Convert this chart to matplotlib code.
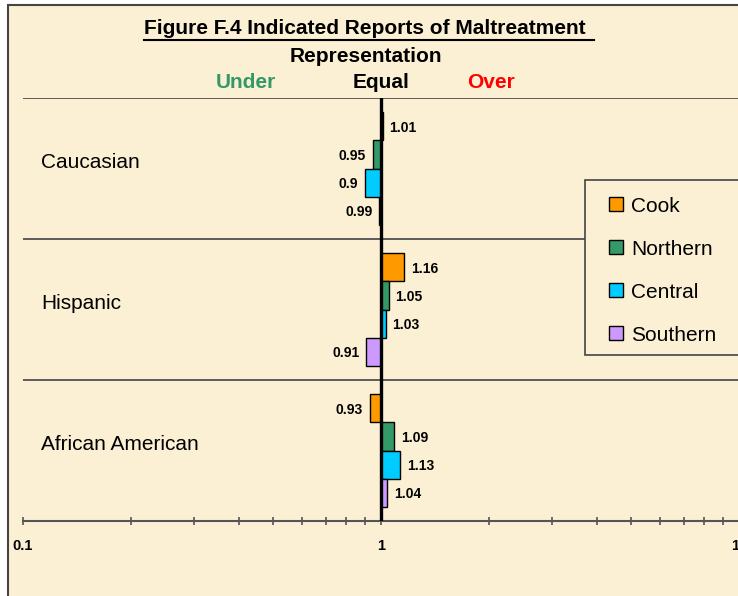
import numpy as np
import matplotlib.pyplot as plt
from matplotlib.patches import Rectangle
from matplotlib.lines import Line2D
from matplotlib.ticker import LogLocator, NullFormatter, FixedFormatter, FixedLocator

plt.rcParams['font.family'] = ['Liberation Sans', 'DejaVu Sans']

# data
groups = ['Caucasian', 'Hispanic', 'African American']
regions = ['Cook', 'Northern', 'Central', 'Southern']
cook = [1.01, 1.16, 0.93]
northern = [0.95, 1.05, 1.09]
central = [0.90, 1.03, 1.13]
southern = [0.99, 0.91, 1.04]
colors = ['#FF9900', '#339966', '#00CCFF', '#CC99FF']
tick_vals = [0.1, 1, 10]
tick_labels = ['0.1', '1', '10']

series = [cook, northern, central, southern]
bg = '#FBF0D4'

fig = plt.figure(figsize=(7.38, 5.96), dpi=100, facecolor='white')
W, H = 738, 596

# framed beige panel
fig.patches.append(Rectangle((8 / W, -0.05), 1.1, 1 - 5 / H + 0.05,
                             transform=fig.transFigure, facecolor=bg,
                             edgecolor='#444444', lw=1.5, zorder=-5))

ax = fig.add_axes([23 / W, 1 - 521 / H, (739 - 23) / W, (521 - 98) / H])
ax.set_facecolor('none')
ax.set_xscale('log')
ax.set_xlim(0.1, 10)
ax.set_ylim(0, 3)

h = 0.2
for gi, g in enumerate(groups):
    base = 2 - gi  # top band is Caucasian
    for si, vals in enumerate(series):
        v = vals[gi]
        yc = base + 0.9 - h / 2 - si * h
        ax.barh(yc, v - 1, left=1, height=h, color=colors[si],
                edgecolor='black', lw=1, zorder=2)
        lab = '%g' % v
        if v >= 1:
            ax.annotate(lab, (v, yc), xytext=(5, -1), textcoords='offset points',
                        ha='left', va='center', fontsize=10, fontweight='bold')
        else:
            ax.annotate(lab, (v, yc), xytext=(-5, -1), textcoords='offset points',
                        ha='right', va='center', fontsize=10, fontweight='bold')
    ax.text(0.025, base + 0.54, g, transform=ax.get_yaxis_transform(),
            fontsize=15, ha='left', va='center')

# band separators
for yy in [1, 2, 3]:
    ax.axhline(yy, color='#444444', lw=1.2, zorder=1)
ax.plot([1, 1], [0, 3], color='black', lw=2.4, zorder=3)

for s in ['top', 'right', 'left']:
    ax.spines[s].set_visible(False)
ax.spines['bottom'].set_color('#555555')
ax.spines['bottom'].set_linewidth(1.5)
ax.set_yticks([])
ax.xaxis.set_major_locator(FixedLocator(tick_vals))
ax.xaxis.set_major_formatter(FixedFormatter(tick_labels))
ax.xaxis.set_minor_locator(LogLocator(base=10, subs=np.arange(2, 10)))
ax.xaxis.set_minor_formatter(NullFormatter())
ax.tick_params(axis='x', which='both', direction='inout', length=6, width=1.2,
               color='#555555', pad=10)
for t in ax.get_xticklabels():
    t.set_fontweight('bold')
    t.set_fontsize(10.5)

# headings
fig.text(368 / W, 1 - 28 / H, 'Figure F.4 Indicated Reports of Maltreatment ',
         ha='center', va='center', fontsize=15, fontweight='bold')
fig.add_artist(Line2D([144 / W, 594 / W], [1 - 40 / H, 1 - 40 / H],
                      color='black', lw=1.5))
fig.text(366 / W, 1 - 56 / H, 'Representation', ha='center', va='center',
         fontsize=15, fontweight='bold')
fig.text(246 / W, 1 - 82 / H, 'Under', ha='center', va='center',
         fontsize=15, fontweight='bold', color='#339966')
fig.text(381 / W, 1 - 82 / H, 'Equal', ha='center', va='center',
         fontsize=15, fontweight='bold', color='black')
fig.text(491 / W, 1 - 82 / H, 'Over', ha='center', va='center',
         fontsize=15, fontweight='bold', color='red')

# legend box (runs past the right edge)
fig.patches.append(Rectangle((585 / W, 1 - 355 / H), 0.3, 175 / H,
                             transform=fig.transFigure, facecolor=bg,
                             edgecolor='#444444', lw=1.2, zorder=4))
handles = [Line2D([], [], ls='none', marker='s', markersize=9.5,
                  markerfacecolor=c, markeredgecolor='black', markeredgewidth=1)
           for c in colors]
leg = fig.legend(handles, regions, loc='upper left',
                 bbox_to_anchor=(585 / W, 1 - 180 / H), fontsize=15,
                 frameon=False, handlelength=1.4,
                 handletextpad=0.0, labelspacing=1.15,
                 borderpad=0.8, borderaxespad=0)
leg.set_zorder(6)

fig.savefig('out.png', dpi=100, facecolor='white')
